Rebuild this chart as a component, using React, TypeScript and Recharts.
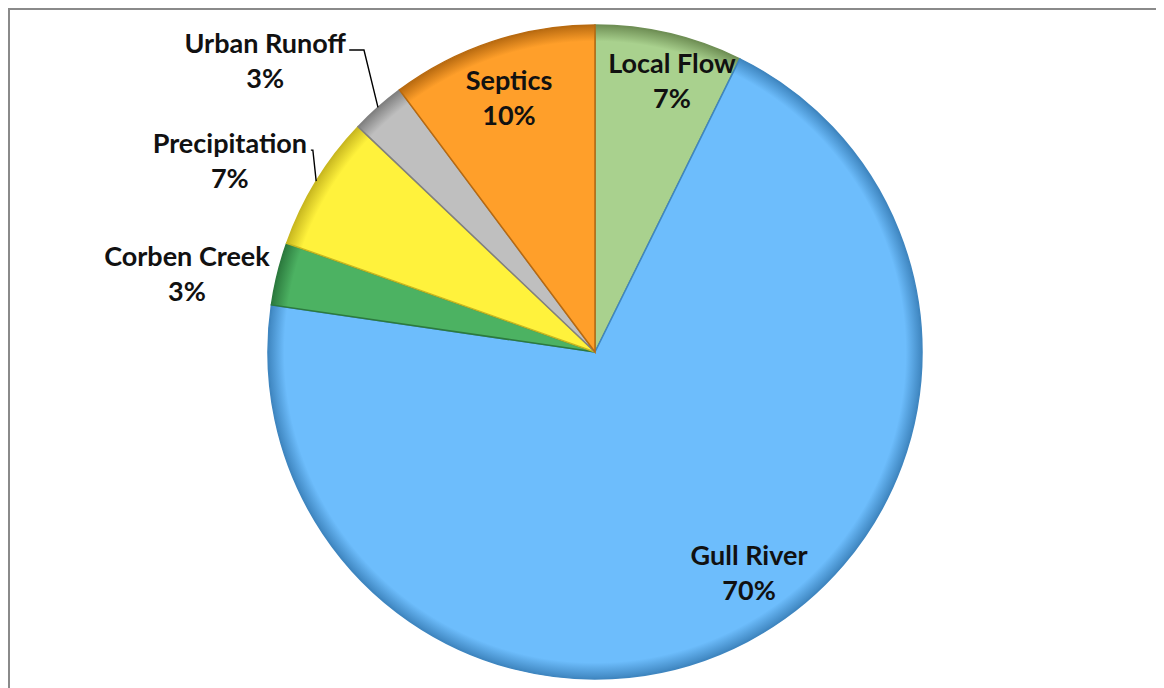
import React from 'react';
import { PieChart, Pie, Cell } from 'recharts';

const sources = ['Local Flow', 'Gull River', 'Corben Creek', 'Precipitation', 'Urban Runoff', 'Septics'];
const shares = [7.3, 70.0, 3.1, 6.7, 2.7, 10.2];
const colors = ['#A9D18E', '#6DBDFC', '#4CB262', '#FFF23C', '#BFBFBF', '#FF9F2A'];
const edges = ['#6f8f55', '#3f86c0', '#2c7a3e', '#c9b820', '#808080', '#b86a10'];

const data = sources.map((name, i) => ({ name, value: shares[i] }));
const total = shares.reduce((a, b) => a + b, 0);

// label placement: radius factor, angle shift (deg), half text width for leader lines
const labelLayout = [
  { r: 0.86, shift: -2.75, leader: false, half: 0 },
  { r: 0.824, shift: 7.15, leader: false, half: 0 },
  { r: 1.27, shift: 3.16, leader: false, half: 0 },
  { r: 1.26, shift: 3.9, leader: true, half: 78 },
  { r: 1.345, shift: 7.0, leader: true, half: 81 },
  { r: 0.82, shift: 0.34, leader: false, half: 0 },
];

const RAD = Math.PI / 180;
const FONT = 'Lato, "Open Sans", sans-serif';
const CX = 585;
const CY = 342;
const R = 327;

const renderLabel = (props: any) => {
  const { cx, cy, midAngle, outerRadius, index, value } = props;
  const lay = labelLayout[index];
  const a = midAngle + lay.shift;
  const x = cx + outerRadius * lay.r * Math.cos(-a * RAD);
  const y = cy + outerRadius * lay.r * Math.sin(-a * RAD);
  const pct = `${Math.round((value / total) * 100)}%`;
  let leader = null;
  if (lay.leader) {
    const ex = cx + outerRadius * Math.cos(-midAngle * RAD);
    const ey = cy + outerRadius * Math.sin(-midAngle * RAD);
    const sx = x + lay.half + 3;
    const sy = y - 11;
    const kx = Math.max(sx + 2, ex - 14);
    leader = (
      <polyline
        points={`${sx},${sy} ${kx},${sy} ${ex},${ey}`}
        fill="none"
        stroke="#000"
        strokeWidth={1.4}
      />
    );
  }
  return (
    <g key={`lbl-${index}`}>
      {leader}
      <text
        x={x}
        y={y - 19}
        textAnchor="middle"
        dominantBaseline="central"
        fill="#111"
        fontFamily={FONT}
        fontWeight={700}
        fontSize={27}
      >
        {sources[index]}
      </text>
      <text
        x={x}
        y={y + 16}
        textAnchor="middle"
        dominantBaseline="central"
        fill="#111"
        fontFamily={FONT}
        fontWeight={700}
        fontSize={27}
      >
        {pct}
      </text>
    </g>
  );
};

export default function App() {
  return (
    <div
      style={{
        width: 1170,
        height: 700,
        borderTop: '2px solid #8a8a8a',
        borderLeft: '2px solid #8a8a8a',
        background: '#fff',
        boxSizing: 'border-box',
      }}
    >
      <PieChart width={1160} height={690} margin={{ top: 0, right: 0, bottom: 0, left: 0 }}>
        <defs>
          {colors.map((c, i) => (
            <radialGradient
              key={`g-${i}`}
              id={`shade-${i}`}
              gradientUnits="userSpaceOnUse"
              cx={CX}
              cy={CY}
              r={R}
            >
              <stop offset="0%" stopColor={c} />
              <stop offset="95%" stopColor={c} />
              <stop offset="100%" stopColor={edges[i]} />
            </radialGradient>
          ))}
        </defs>
        <Pie
          data={data}
          dataKey="value"
          nameKey="name"
          cx={CX}
          cy={CY}
          outerRadius={R}
          startAngle={90}
          endAngle={-270}
          isAnimationActive={false}
          labelLine={false}
          label={renderLabel}
        >
          {data.map((d, i) => (
            <Cell key={`cell-${i}`} fill={`url(#shade-${i})`} stroke={edges[i]} strokeWidth={1.5} />
          ))}
        </Pie>
      </PieChart>
    </div>
  );
}
